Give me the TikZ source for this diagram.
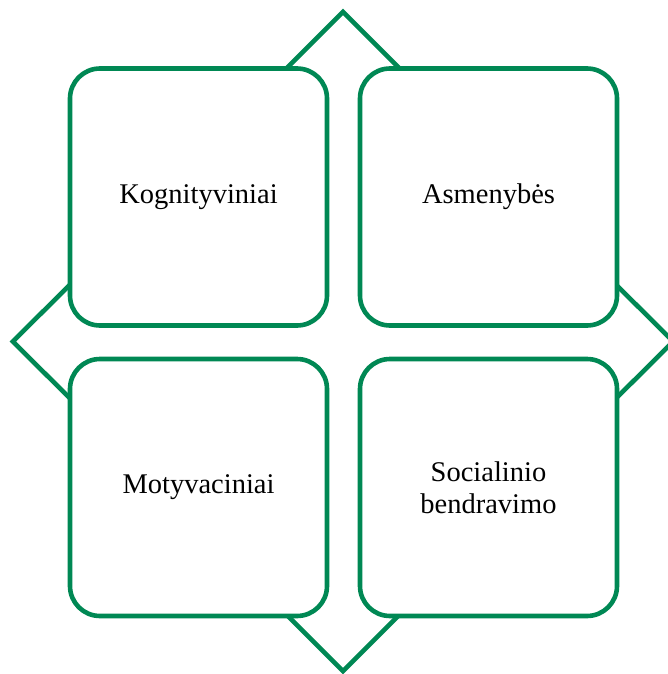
\documentclass[tikz,border=0pt]{standalone}
\usepackage{fontspec}
\setmainfont{Liberation Serif}
\usetikzlibrary{shapes.geometric}
\definecolor{smgreen}{RGB}{0,136,84}
\begin{document}
\begin{tikzpicture}[x=1pt,y=-1pt,
  boxstyle/.style={draw=smgreen, line width=4.6pt, fill=white, rounded corners=30pt,
    minimum width=257pt, minimum height=257pt, inner sep=0pt, align=center,
    font=\fontsize{28.5}{32}\selectfont},
  starstyle/.style={diamond, draw=smgreen, line width=4.6pt, fill=white, inner sep=0pt,
    minimum width=662pt, minimum height=661pt}]
\useasboundingbox (0,0) rectangle (668,674);
\clip (0,0) rectangle (668,674);
\node[starstyle] (star) at (343,341.5) {};
\node[boxstyle] (kog) at (198.5,197) {Kognityviniai};
\node[boxstyle] (asm) at (488.5,197) {Asmenybės};
\node[boxstyle] (mot) at (198.5,487.5) {Motyvaciniai};
\node[boxstyle] (soc) at (488.5,487.5) {Socialinio\\bendravimo};
\end{tikzpicture}
\end{document}
